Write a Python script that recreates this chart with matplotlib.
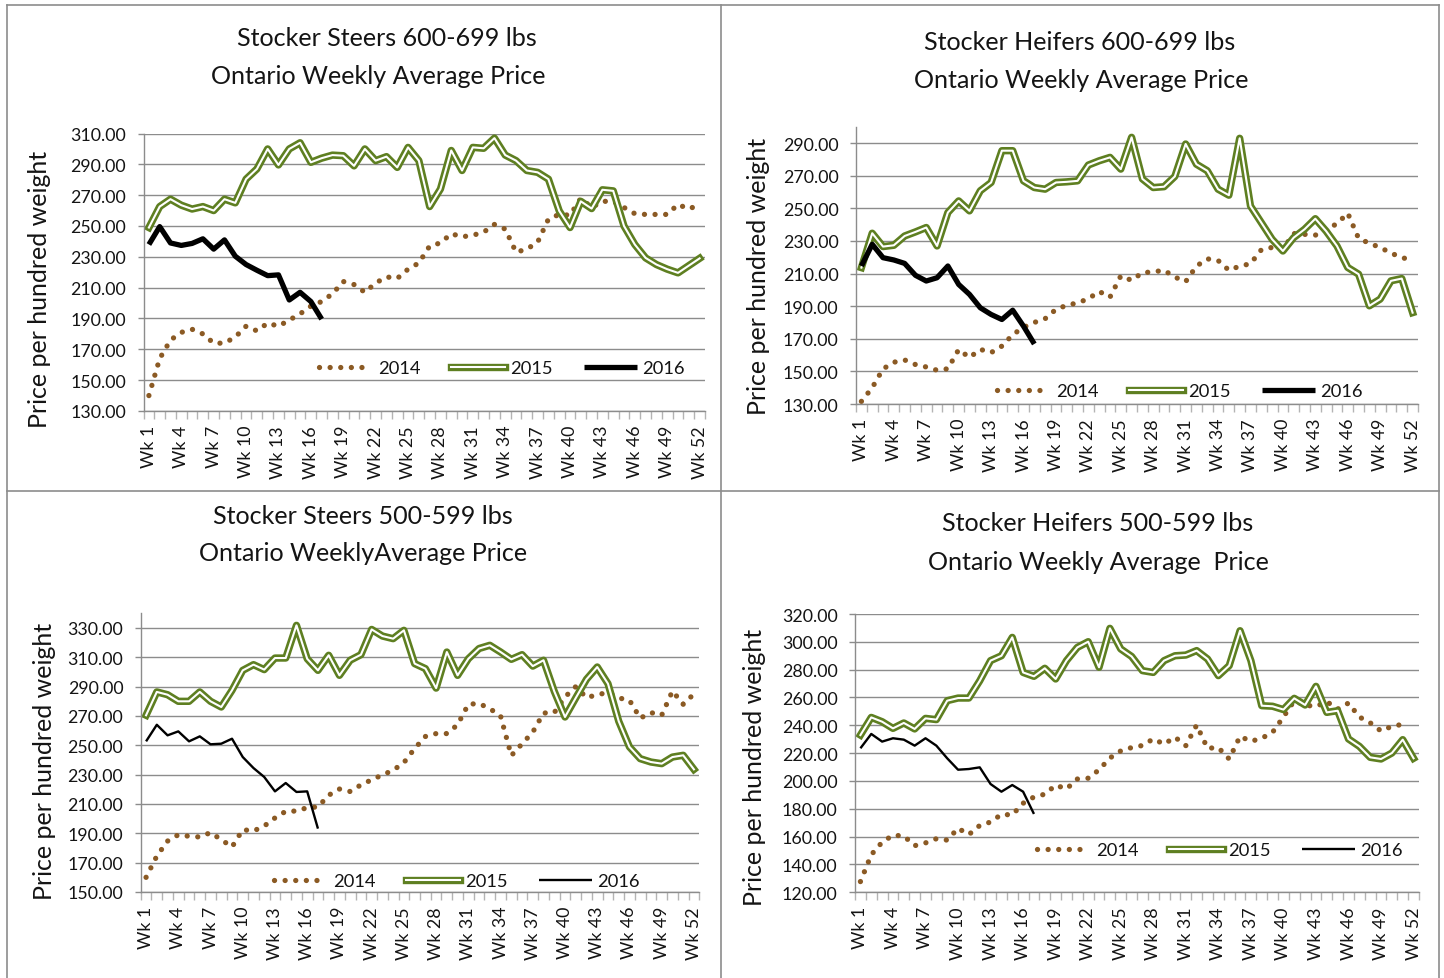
import numpy as np
import matplotlib
matplotlib.use("Agg")
import matplotlib.pyplot as plt
import matplotlib.patheffects as pe
from matplotlib.lines import Line2D

plt.rcParams['font.family'] = ['Lato', 'DejaVu Sans']

W, H = 1444, 979

weeks = [f"Wk {i}" for i in range(1, 53)]

# Stocker Steers 600-699 lbs
s6_2014 = [140, 164, 176, 181, 183, 180, 174, 174, 178, 185, 182, 187, 185, 189, 193, 198,
           201, 206, 214, 212, 207, 213, 217, 216, 222, 226, 237, 239, 245, 243, 244, 246,
           251, 248, 233, 235, 239.5, 254.5, 257.5, 257, 268, 262, 266, 266, 262, 258,
           257.5, 257.5, 257.5, 264, 261, 264]
s6_2015 = [249, 262.6, 267.4, 263.5, 261, 262.6, 260, 267.4, 265, 280.4, 287, 300, 289.6,
           300, 304, 291.3, 294, 296, 295.6, 289, 300, 292.4, 295, 288, 301, 292.4, 262.6,
           274, 299, 286, 301, 300.4, 307, 296, 292.4, 286, 284.8, 280.4, 259.8, 249, 266,
           261.3, 273.5, 272.8, 250, 238, 229.3, 225, 222, 219.6, 224.3, 229]
s6_2016 = [238, 249.6, 239, 237.4, 238.7, 241.7, 235, 241, 230.4, 225, 221.3, 217.8, 218.3,
           202, 207, 201, 189.6]

# Stocker Heifers 600-699 lbs
h6_2014 = [131.6, 140, 151.5, 155.6, 157, 154.2, 152.7, 150.7, 151.6, 163.4, 158.5, 163.5,
           161.5, 165.5, 172.5, 177, 180, 182.3, 188, 190.5, 192, 194.5, 199, 195.5, 208.5,
           205.8, 210.5, 211, 212, 207.8, 205, 214.5, 219, 218, 212, 214.5, 216, 224.5, 226,
           225, 234.5, 234, 233.5, 237, 240.5, 247, 231.6, 228.5, 226, 222.5, 219.8, 218]
h6_2015 = [213.6, 234.7, 226.5, 227.3, 233, 235.5, 238.2, 226.9, 247.4, 254.5, 248.4, 260.7,
           265.8, 285.3, 285.3, 266.8, 262.7, 261.7, 265.8, 266.2, 266.8, 276.5, 279.1, 281.2,
           274, 293.5, 268, 262.7, 263.2, 269.5, 289.4, 277, 273, 261.7, 258, 292.9, 251.4,
           241.2, 231, 223.8, 232, 237.1, 243.6, 236, 226.9, 213.7, 209.6, 190.2, 194.3,
           205.5, 206.9, 186]
h6_2016 = [214.6, 227.9, 219.7, 218.3, 216.2, 208.9, 205.4, 207.4, 214.6, 203.3, 197.2, 189,
           184.9, 181.8, 187.5, 177.7, 166.8]

# Stocker Steers 500-599 lbs
s5_2014 = [160, 174.5, 184.7, 189, 188, 187.5, 190.5, 185.7, 180.7, 192.5, 191.6, 195, 200.5,
           205, 205.2, 207.5, 208, 216, 220.2, 218.5, 223, 226.5, 229.8, 233, 238.2, 247.8,
           256, 258, 258, 264, 278, 278.5, 275, 270, 243, 251, 259, 272, 272.3, 283, 290,
           282.5, 284.5, 286, 282.3, 280.7, 268.5, 272.3, 270.5, 287, 278, 285]
s5_2015 = [270.5, 286.4, 284.5, 280, 280, 286.4, 280, 276.1, 287.5, 301.1, 305, 301.6, 309.5,
           309.5, 331.8, 309, 301.1, 311.4, 297.7, 308, 311.8, 329, 324.5, 322.7, 328.4,
           305.7, 302.3, 289, 313.6, 297.7, 309, 316, 318.2, 313.6, 308.6, 311.8, 304, 308,
           286.8, 269.3, 282.3, 295, 303.4, 292, 266.4, 248.9, 240.9, 238.6, 237.5, 242,
           243.2, 233.6]
s5_2016 = [252.7, 264, 256.8, 259.5, 252.7, 256.1, 250.7, 251.1, 254.5, 242, 234.5, 228.4,
           218.6, 224.3, 218.2, 218.6, 193.2]

# Stocker Heifers 500-599 lbs
h5_2014 = [127.7, 147, 156, 161, 160.5, 153.5, 155.5, 158.5, 157.5, 166, 161.5, 168, 170.5,
           176, 175.6, 184, 188.5, 190.5, 197, 194.3, 201.4, 202, 208, 216.5, 221.6, 224,
           225.5, 230.2, 226.5, 231.5, 225.4, 240.2, 223.5, 224, 215.8, 232.1, 228.5, 230.7,
           235, 246, 257.7, 254.5, 253.5, 257, 251.7, 256, 246, 241.8, 235.9, 239.3, 240.7]
h5_2015 = [233, 245.7, 242.6, 237.8, 241.7, 237.4, 245, 244.1, 257.7, 259.6, 259.6, 272,
           286.5, 290, 303.2, 278, 275.2, 281, 273.3, 286.5, 296, 300.1, 281.7, 309.7, 294.9,
           289.5, 279.3, 278, 286.5, 290, 290.5, 293.7, 287.7, 275.7, 282.9, 308, 286.5,
           254.1, 253.7, 251.3, 259.4, 254.6, 268, 249.3, 250.5, 230.2, 224.9, 217, 215.8,
           220.1, 229.7, 216.3]
h5_2016 = [223.5, 233.8, 228.3, 230.7, 229.7, 225.4, 230.7, 225.4, 216.3, 208.1, 208.6,
           209.8, 197.8, 192.3, 197.1, 192.3, 176.3]

GREEN = '#5E7F21'
BROWN = '#8B5A24'
GRID = '#8C8C8C'
TICK = '#B4B4B4'
TEXT = '#141414'
FS = 12.8

fig = plt.figure(figsize=(W / 100, H / 100), dpi=100)


def px_axes(l, t, r, b):
    return fig.add_axes([l / W, 1 - b / H, (r - l) / W, (b - t) / H])


def draw_panel(ax, y14, y15, y16, ylim, yticks, lw16, leg_xy):
    ax.plot(np.arange(len(y14)), y14, color=BROWN, lw=3.8, linestyle=(0, (0.01, 2.0)),
            dash_capstyle='round', clip_on=False, label='2014')
    ax.plot(np.arange(len(y15)), y15, color='white', lw=1.5, clip_on=False, label='2015',
            path_effects=[pe.Stroke(linewidth=5.3, foreground=GREEN), pe.Normal()])
    ax.plot(np.arange(len(y16)), y16, color='black', lw=lw16, clip_on=False, label='2016',
            solid_capstyle='butt')

    ax.set_xlim(-0.5, 51.5)
    ax.set_ylim(*ylim)
    ax.set_yticks(yticks)
    ax.set_yticklabels([f"{v:.2f}" for v in yticks])
    ax.grid(axis='y', color=GRID, lw=1.0)
    ax.set_axisbelow(True)
    for s in ['top', 'right']:
        ax.spines[s].set_visible(False)
    for s in ['left', 'bottom']:
        ax.spines[s].set_color(GRID)
        ax.spines[s].set_linewidth(1.0)

    ax.set_xticks(np.arange(-0.5, 52, 1))
    ax.set_xticklabels([])
    ax.set_xticks(np.arange(0, 52, 3), minor=True)
    ax.set_xticklabels(weeks[::3], minor=True, rotation=90)
    ax.tick_params(axis='x', which='major', length=6, color=TICK, width=1)
    ax.tick_params(axis='x', which='minor', length=0, pad=10, labelsize=FS, labelcolor=TEXT)
    ax.tick_params(axis='y', length=4.5, color=GRID, width=1, pad=8, labelsize=FS,
                   labelcolor=TEXT)

    ax.legend(loc='center', bbox_to_anchor=(leg_xy[0] / W, 1 - leg_xy[1] / H),
              bbox_transform=fig.transFigure, ncol=3, frameon=False, fontsize=13.2,
              handlelength=2.9, handletextpad=0.3, columnspacing=1.7, borderpad=0,
              labelcolor=TEXT)


ax1 = px_axes(143.5, 134.5, 705, 412)
draw_panel(ax1, s6_2014, s6_2015, s6_2016, (130, 310), np.arange(130, 311, 20), 3.8,
           (502, 369))
ax2 = px_axes(856, 127.7, 1418, 405)
draw_panel(ax2, h6_2014, h6_2015, h6_2016, (130, 300), np.arange(130, 291, 20), 3.8,
           (1180, 392))
ax3 = px_axes(140.7, 614.3, 699.3, 893)
draw_panel(ax3, s5_2014, s5_2015, s5_2016, (150, 340), np.arange(150, 331, 20), 1.7,
           (457, 882))
ax4 = px_axes(855, 615, 1419, 893.3)
draw_panel(ax4, h5_2014, h5_2015, h5_2016, (120, 320), np.arange(120, 321, 20), 1.7,
           (1220, 851))

# titles
titles = [
    ("Stocker Steers 600-699 lbs", 387, 38), ("Ontario Weekly Average Price", 378, 76),
    ("Stocker Heifers 600-699 lbs", 1080, 43), ("Ontario Weekly Average Price", 1081, 81),
    ("Stocker Steers 500-599 lbs", 363, 516), ("Ontario WeeklyAverage Price", 363, 554),
    ("Stocker Heifers 500-599 lbs", 1098, 524), ("Ontario Weekly Average  Price", 1098, 562),
]
for txt, x, y in titles:
    fig.text(x / W, 1 - y / H, txt, ha='center', va='center', fontsize=18.1, color=TEXT)

# y axis titles
for x, y in [(40, 289), (758, 276), (45, 761), (755, 767)]:
    fig.text(x / W, 1 - y / H, "Price per hundred weight", rotation=90, ha='center',
             va='center', fontsize=18, color=TEXT)

# chart borders
for (x0, y0, x1, y1) in [(6.5, 6, 1439, 6), (6.5, 6, 6.5, 979), (1439, 6, 1439, 979),
                         (721, 6, 721, 979), (6.5, 492, 1439, 492)]:
    fig.add_artist(Line2D([x0 / W, x1 / W], [1 - y0 / H, 1 - y1 / H],
                          transform=fig.transFigure, color='#8C8C8C', lw=1.2))

fig.savefig("out.png", dpi=100)
